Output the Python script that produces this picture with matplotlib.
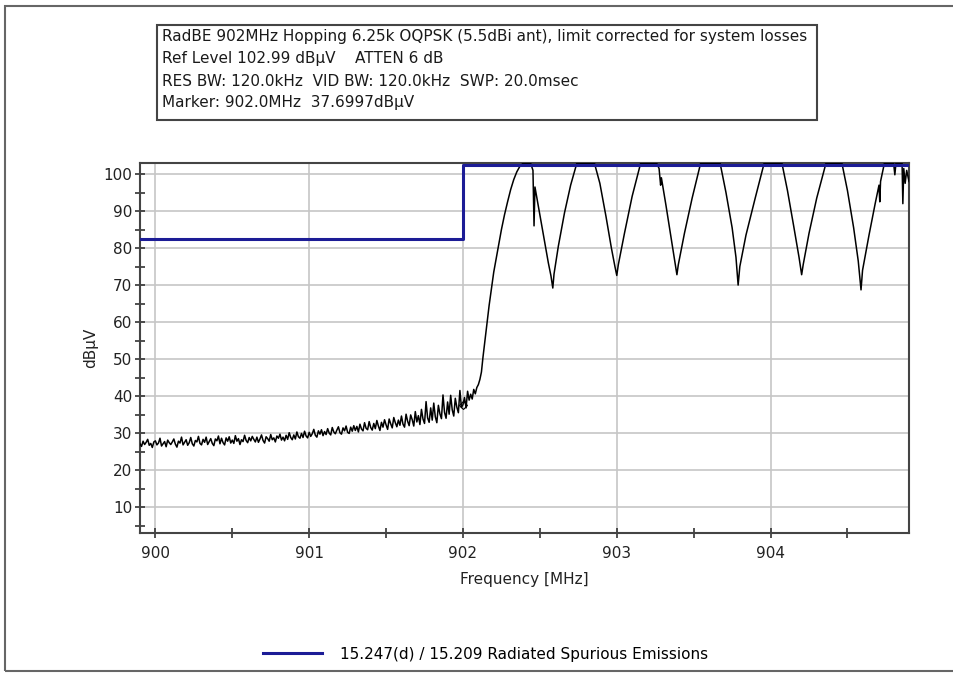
import numpy as np
import matplotlib.pyplot as plt
from matplotlib.patches import Rectangle

plt.rcParams['font.family'] = ['DejaVu Sans']

# sweep settings
f_start, f_stop = 899.90, 904.90
ref_level = 102.99
y_bottom = 2.99

# noise floor part of the trace, 0.01 MHz steps from 899.90 to 902.10
noise_start, noise_stop = 899.90, 902.10
noise_level = [
    27.1, 26.4, 27.8, 26.9, 27.5, 28.3, 26.7, 27.2, 26.1, 27.6,
    27.9, 26.8, 27.3, 28.6, 26.5, 27.1, 27.7, 26.3, 28.1, 27.4,
    26.9, 27.6, 28.4, 27.0, 26.2, 27.8, 27.3, 28.9, 26.8, 27.5,
    28.2, 26.7, 27.4, 28.8, 27.1, 26.5, 28.0, 27.6, 29.1, 27.2,
    26.8, 28.3, 27.5, 28.9, 26.9, 27.7, 28.5, 27.2, 26.6, 28.4,
    27.9, 29.2, 27.1, 28.6, 27.4, 26.8, 28.7, 27.8, 29.0, 27.3,
    28.1, 27.2, 29.3, 27.8, 28.5, 26.9, 28.2, 27.7, 29.4, 28.0,
    27.4, 28.8, 27.9, 29.1, 28.3, 27.6, 28.9, 27.5, 28.4, 29.5,
    28.0, 27.3, 29.0, 28.5, 27.8, 29.6, 28.2, 28.7, 27.6, 29.2,
    28.6, 29.7, 28.1, 28.9, 27.9, 29.4, 28.3, 30.1, 28.8, 28.2,
    29.5, 28.4, 30.3, 29.0, 28.6, 29.9, 28.8, 30.5, 29.2, 28.7,
    30.2, 29.1, 29.8, 31.0, 29.4, 28.9, 30.6, 29.7, 30.9, 29.3,
    30.4, 29.6, 31.2, 30.0, 29.5, 31.5, 30.3, 29.8, 30.8, 31.7,
    30.1, 29.7, 31.4, 30.6, 31.9, 30.2, 29.9, 31.6, 30.5, 32.0,
    30.7, 31.8, 30.3, 32.4, 31.1, 30.6, 32.8, 31.3, 30.9, 33.1,
    31.5, 30.8, 32.6, 31.2, 33.4, 31.9, 30.7, 32.9, 31.6, 33.6,
    32.2, 31.0, 33.8, 32.5, 31.4, 34.2, 32.8, 31.7, 33.5, 32.1,
    34.6, 32.4, 31.6, 35.1, 33.2, 32.0, 34.9, 33.6, 31.9, 35.8,
    33.0, 34.7, 32.3, 36.4, 33.8, 32.6, 38.5, 34.1, 32.9, 36.8,
    33.5, 38.1, 34.4, 32.8, 37.5, 35.2, 33.9, 40.3, 35.6, 34.0,
    38.4, 35.1, 40.2, 36.3, 34.6, 39.4, 37.0, 35.5, 41.5, 36.9,
    37.7, 39.6, 36.8, 41.3, 38.9, 40.5, 39.2, 41.8, 40.6, 42.3,
    43.1,
]

# rise past the band edge and the hopping channels above 902 MHz
lobe_freq = [
    902.11, 902.12, 902.13, 902.14, 902.15, 902.16, 902.17, 902.18, 902.19, 902.20,
    902.215, 902.23, 902.25, 902.27, 902.29, 902.31, 902.33, 902.35, 902.37, 902.39,
    902.44, 902.455, 902.462, 902.468, 902.50, 902.53, 902.555, 902.572, 902.584, 902.592,
    902.62, 902.66, 902.70, 902.74, 902.855, 902.89, 902.93, 902.965, 902.988, 903.0,
    903.01, 903.05, 903.10, 903.155, 903.26, 903.275, 903.285, 903.29, 903.32, 903.35,
    903.375, 903.391, 903.40, 903.44, 903.49, 903.545, 903.672, 903.71, 903.75, 903.775,
    903.789, 903.80, 903.84, 903.90, 903.958, 904.074, 904.11, 904.15, 904.185, 904.202,
    904.212, 904.25, 904.30, 904.36, 904.464, 904.50, 904.54, 904.57, 904.588, 904.598,
    904.64, 904.68, 904.705, 904.71, 904.715, 904.74, 904.80, 904.808, 904.815, 904.855,
    904.86, 904.866, 904.875, 904.885, 904.90,
]
lobe_level = [
    44.5, 46.5, 50.5, 54.0, 57.5, 61.0, 64.5, 67.5, 70.5, 73.5,
    77.0, 80.5, 85.0, 89.0, 92.5, 95.8, 98.5, 100.6, 102.1, 102.9,
    102.9, 101.0, 86.0, 96.5, 89.0, 82.0, 76.0, 72.5, 69.2, 73.0,
    80.5, 89.5, 97.0, 102.9, 102.9, 97.5, 88.5, 80.0, 75.0, 72.6,
    75.5, 84.0, 94.0, 102.9, 102.9, 101.5, 97.0, 99.0, 91.5, 83.5,
    77.0, 72.8, 75.5, 84.0, 93.5, 102.9, 102.9, 95.0, 85.5, 77.5,
    70.0, 75.0, 83.5, 93.5, 102.9, 102.9, 95.5, 86.0, 77.5, 72.8,
    75.5, 84.0, 93.5, 102.9, 102.9, 95.5, 85.5, 76.5, 68.7, 74.0,
    83.5, 92.0, 97.0, 92.5, 98.0, 102.9, 102.9, 99.8, 102.9, 102.9,
    92.0, 101.5, 97.5, 101.0, 98.0,
]

# 15.247(d) / 15.209 limit line
limit_freq = [899.90, 902.0, 902.0, 904.90]
limit_level = [82.5, 82.5, 102.5, 102.5]

marker_freq = 902.0
marker_level = 37.6997

header_lines = [
    "RadBE 902MHz Hopping 6.25k OQPSK (5.5dBi ant), limit corrected for system losses",
    "Ref Level 102.99 dB\u00b5V    ATTEN 6 dB",
    "RES BW: 120.0kHz  VID BW: 120.0kHz  SWP: 20.0msec",
    "Marker: 902.0MHz  37.6997dB\u00b5V",
]
legend_label = "15.247(d) / 15.209 Radiated Spurious Emissions"

noise_freq = np.linspace(noise_start, noise_stop, len(noise_level))
trace_freq = np.concatenate([noise_freq, lobe_freq])
trace_level = np.concatenate([noise_level, lobe_level])

W, H = 954, 674
fs = 11
fig = plt.figure(figsize=(W / 100, H / 100), dpi=100)
fig.patch.set_facecolor('white')

ax = fig.add_axes([140 / W, 1 - 533 / H, 769 / W, 370 / H])
ax.plot(trace_freq, trace_level, color='black', lw=1.1, zorder=3)
limit_ln, = ax.plot(limit_freq, limit_level, color='#1c1c96', lw=2.2, zorder=4,
                    label=legend_label)
ax.plot([marker_freq], [marker_level], marker='D', ms=4, mfc='none', mec='black',
        mew=0.8, zorder=5)

ax.set_xlim(f_start, f_stop)
ax.set_ylim(y_bottom, ref_level)
ax.set_xticks([900, 901, 902, 903, 904])
ax.set_xticks([900.5, 901.5, 902.5, 903.5, 904.5], minor=True)
ax.set_yticks(range(10, 101, 10))
ax.set_yticks(range(5, 101, 5), minor=True)
ax.grid(True, which='major', color='#c6c6c6', lw=1.2, zorder=0)
ax.tick_params(which='both', direction='inout', length=7, width=1.2,
               color='#333333', labelsize=fs, labelcolor='#222222')
ax.tick_params(axis='x', pad=6)
ax.tick_params(axis='y', pad=2)
for side in ax.spines.values():
    side.set_color('#444444')
    side.set_linewidth(1.5)

ax.set_xlabel("Frequency [MHz]", fontsize=fs, color='#222222', labelpad=8)
ax.set_ylabel("dB\u00b5V", fontsize=fs, color='#222222', labelpad=4)

# header box with the analyzer settings
fig.patches.append(Rectangle((157 / W, 1 - 120 / H), 660 / W, 95 / H,
                             transform=fig.transFigure, fill=False,
                             edgecolor='#444444', lw=1.5))
for i, line in enumerate(header_lines):
    fig.text(162 / W, 1 - (37 + 22 * i) / H, line, fontsize=fs,
             color='#1a1a1a', va='center', ha='left')

# outer frame
fig.patches.append(Rectangle((5 / W, 1 - 671 / H), 1.0, 665 / H,
                             transform=fig.transFigure, fill=False,
                             edgecolor='#666666', lw=1.5))

fig.legend(handles=[limit_ln], loc='center left',
           bbox_to_anchor=(263 / W, 1 - 654 / H), frameon=False,
           fontsize=fs, handlelength=3.86, handletextpad=1.18, borderpad=0,
           borderaxespad=0)

fig.savefig("out.png", dpi=100)
